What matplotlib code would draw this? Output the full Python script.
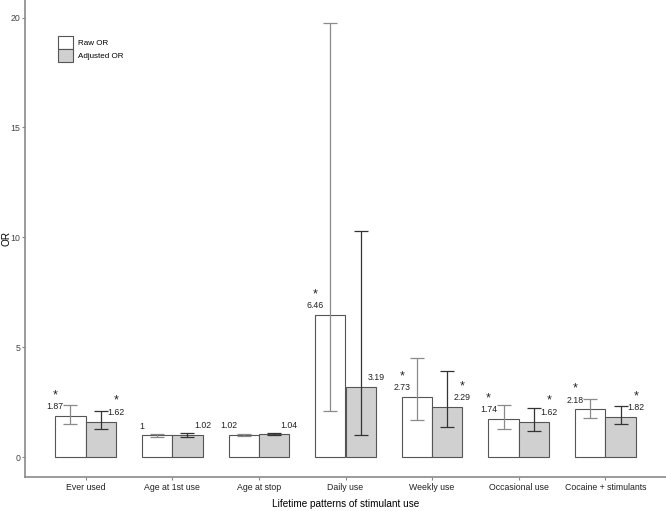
import numpy as np
import matplotlib
matplotlib.use("Agg")
import matplotlib.pyplot as plt
from matplotlib.patches import Patch

matplotlib.rcParams['font.family'] = ['Liberation Sans', 'DejaVu Sans']

# data
categories = ["Ever used", "Age at 1st use", "Age at stop", "Daily use",
              "Weekly use", "Occasional use", "Cocaine + stimulants"]
raw_or = [1.87, 1.00, 1.02, 6.46, 2.73, 1.74, 2.18]
raw_lo = [1.50, 0.94, 0.98, 2.12, 1.68, 1.30, 1.80]
raw_hi = [2.38, 1.06, 1.06, 19.75, 4.50, 2.39, 2.65]
adj_or = [1.62, 1.02, 1.04, 3.19, 2.29, 1.62, 1.82]
adj_lo = [1.27, 0.94, 0.99, 1.00, 1.36, 1.18, 1.49]
adj_hi = [2.10, 1.10, 1.09, 10.30, 3.92, 2.26, 2.32]
raw_sig = [True, False, False, True, True, True, True]
adj_sig = [True, False, False, False, True, True, True]

x = np.arange(1, len(categories) + 1)
w = 0.35

fig = plt.figure(figsize=(6.66, 5.11), dpi=100)
ax = fig.add_axes([25/666, 34/511, 641/666, 477/511])

edge = '#555555'
ax.bar(x - w/2, raw_or, w, color='white', edgecolor=edge, linewidth=0.8, zorder=2)
ax.bar(x + w/2, adj_or, w, color='#d0d0d0', edgecolor=edge, linewidth=0.8, zorder=2)

raw_err = [np.array(raw_or) - np.array(raw_lo), np.array(raw_hi) - np.array(raw_or)]
adj_err = [np.array(adj_or) - np.array(adj_lo), np.array(adj_hi) - np.array(adj_or)]
ax.errorbar(x - w/2, raw_or, yerr=raw_err, fmt='none', ecolor='#8a8a8a',
            elinewidth=0.9, capsize=5, capthick=0.9, zorder=3)
ax.errorbar(x + w/2, adj_or, yerr=adj_err, fmt='none', ecolor='#333333',
            elinewidth=0.9, capsize=5, capthick=0.9, zorder=3)

def fmt(v):
    return ('%.2f' % v).rstrip('0').rstrip('.')

for xi, v, s in zip(x, raw_or, raw_sig):
    ax.text(xi - w, v + 0.42, fmt(v), ha='center', va='center', fontsize=6.3, color='#222222')
    if s:
        ax.text(xi - w, v + 0.95, '*', ha='center', va='center', fontsize=9, color='#222222')
for xi, v, s in zip(x, adj_or, adj_sig):
    ax.text(xi + w, v + 0.42, fmt(v), ha='center', va='center', fontsize=6.3, color='#222222')
    if s:
        ax.text(xi + w, v + 0.95, '*', ha='center', va='center', fontsize=9, color='#222222')

ax.set_xlim(0.3, 7.7)
ax.set_ylim(-0.9, 20.8)
ax.set_xticks(x)
ax.set_xticklabels(categories, fontsize=6.3, color='#222222')
ax.set_yticks([0, 5, 10, 15, 20])
ax.tick_params(axis='y', labelsize=6.3, length=2, pad=1.5, color='#888888', labelcolor='#444444')
ax.tick_params(axis='x', length=2, pad=2, color='#888888')
for sp in ['top', 'right']:
    ax.spines[sp].set_visible(False)
for sp in ['left', 'bottom']:
    ax.spines[sp].set_color('#8a8a8a')
    ax.spines[sp].set_linewidth(1.2)
ax.set_ylabel('OR', fontsize=7.2)
ax.yaxis.set_label_coords(-0.021, 0.5)
ax.set_xlabel('Lifetime patterns of stimulant use', fontsize=7.2, labelpad=5)

handles = [Patch(facecolor='white', edgecolor=edge, linewidth=0.8),
           Patch(facecolor='#d0d0d0', edgecolor=edge, linewidth=0.8)]
ax.legend(handles, ['Raw OR', 'Adjusted OR'], loc='upper left',
          bbox_to_anchor=(0.051, 0.925), frameon=False, fontsize=5.8,
          borderpad=0, borderaxespad=0,
          handlelength=1.9, handleheight=2.1, labelspacing=0.0, handletextpad=0.6)

fig.savefig('out.png', dpi=100)
